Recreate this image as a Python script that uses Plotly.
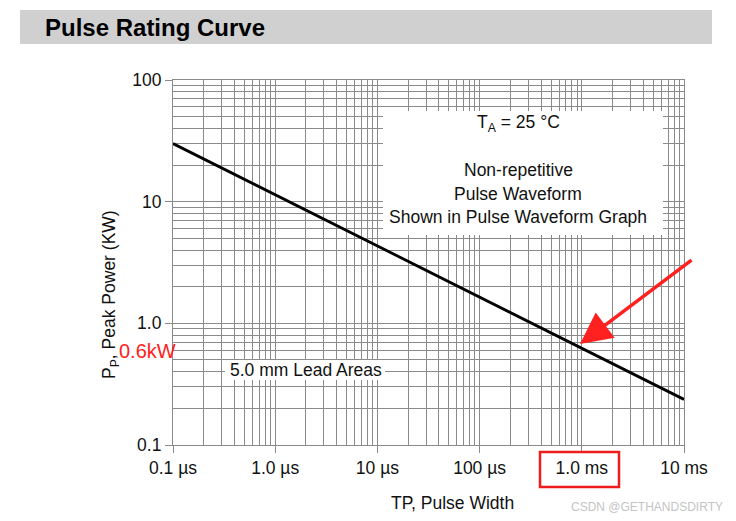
import plotly.graph_objects as go

# ---- data ----
pulse_width_us = [0.1, 1, 10, 100, 1000, 10000]
peak_power_kw = [30, 11.4, 4.3, 1.64, 0.62, 0.237]

x_tick_vals = [0.1, 1, 10, 100, 1000, 10000]
x_tick_text = ["0.1 µs", "1.0 µs", "10 µs", "100 µs", "1.0 ms", "10 ms"]
y_tick_vals = [0.1, 1, 10, 100]
y_tick_text = ["0.1", "1.0", "10", "100"]

x_minor = [m * 10 ** k for k in range(-1, 4) for m in range(2, 10)]
y_minor = [m * 10 ** k for k in range(-1, 2) for m in range(2, 10)]

FONT = "Liberation Sans, Arial, sans-serif"
FS = 17.5
GRID = "#8a8a8a"
TXT = "#111111"

# the page body adds an 8px offset; lay the figure out in page pixels
OFF = 8
W, H = 736 - OFF, 521 - OFF
PL, PR, PT, PB = 173, 684, 80, 445          # plot area in page pixels
L, T = PL - OFF, PT - OFF
R = W - (PR - OFF)
B = H - (PB - OFF)
PW, PH = PR - PL, PB - PT


def px(x):
    return (x - PL) / PW


def py(y):
    return (PB - y) / PH


fig = go.Figure(
    go.Scatter(
        x=pulse_width_us,
        y=peak_power_kw,
        mode="lines",
        line=dict(color="black", width=2.8),
        hoverinfo="skip",
        showlegend=False,
    )
)

axis_common = dict(
    type="log",
    tickmode="array",
    ticks="outside",
    ticklen=7,
    tickwidth=1.2,
    tickcolor=GRID,
    showgrid=True,
    gridcolor=GRID,
    gridwidth=1.2,
    showline=True,
    linecolor=GRID,
    linewidth=1.2,
    mirror=True,
    zeroline=False,
    tickfont=dict(family=FONT, size=FS, color=TXT),
)

fig.update_xaxes(
    **axis_common,
    range=[-1, 4],
    tickvals=x_tick_vals,
    ticktext=x_tick_text,
    minor=dict(tickmode="array", tickvals=x_minor, showgrid=True,
               gridcolor=GRID, gridwidth=1.2, ticks=""),
)
fig.update_yaxes(
    **axis_common,
    range=[-1, 2],
    tickvals=y_tick_vals,
    ticktext=y_tick_text,
    minor=dict(tickmode="array", tickvals=y_minor, showgrid=True,
               gridcolor=GRID, gridwidth=1.2, ticks=""),
)

shapes = [
    # header band
    dict(type="rect", xref="paper", yref="paper", x0=px(20), x1=px(712),
         y0=py(44), y1=py(10), fillcolor="#d0d0d0", line=dict(width=0),
         layer="below"),
    # white box behind the conditions text
    dict(type="rect", xref="paper", yref="paper", x0=px(383), x1=px(663),
         y0=py(235), y1=py(111), fillcolor="white", line=dict(width=0),
         layer="above"),
    # white box behind lead areas text
    dict(type="rect", xref="paper", yref="paper", x0=px(225), x1=px(385),
         y0=py(380), y1=py(360), fillcolor="white", line=dict(width=0),
         layer="above"),
    # red highlight rectangle around 1.0 ms
    dict(type="rect", xref="paper", yref="paper", x0=px(540), x1=px(619),
         y0=py(487), y1=py(452), fillcolor="rgba(0,0,0,0)",
         line=dict(color="#ee1c1c", width=2.5), layer="above"),
]


def txt(x, y, text, size=FS, color=TXT, family=FONT, **kw):
    return dict(xref="paper", yref="paper", x=px(x), y=py(y), text=text,
                showarrow=False, font=dict(family=family, size=size, color=color),
                xanchor=kw.pop("xanchor", "center"), yanchor=kw.pop("yanchor", "middle"),
                **kw)


annotations = [
    txt(43, 27, "<b>Pulse Rating Curve</b>", size=24, color="black", xanchor="left"),
    txt(518, 124, "T<sub>A</sub> = 25 °C"),
    txt(518, 170, "Non-repetitive"),
    txt(518, 194, "Pulse Waveform"),
    txt(518, 217, "Shown in Pulse Waveform Graph"),
    txt(306, 370, "5.0 mm Lead Areas"),
    txt(452, 503, "TP, Pulse Width"),
    txt(110, 295, "P<sub>P</sub>, Peak Power (KW)", textangle=-90),
    txt(147, 351, "0.6kW", size=20, color="#ff2020"),
    txt(647, 507, "CSDN @GETHANDSDIRTY", size=12, color="#c4c4c4"),
    # red arrow
    dict(xref="paper", yref="paper", x=px(580), y=py(344), ax=113, ay=-85,
         showarrow=True, arrowhead=2, arrowsize=1.8, arrowwidth=3.5,
         arrowcolor="#ff2020", text=""),
]

fig.update_layout(
    width=W,
    height=H,
    margin=dict(l=L, r=R, t=T, b=B),
    paper_bgcolor="white",
    plot_bgcolor="white",
    shapes=shapes,
    annotations=annotations,
    showlegend=False,
)

fig.write_html("out.html")
